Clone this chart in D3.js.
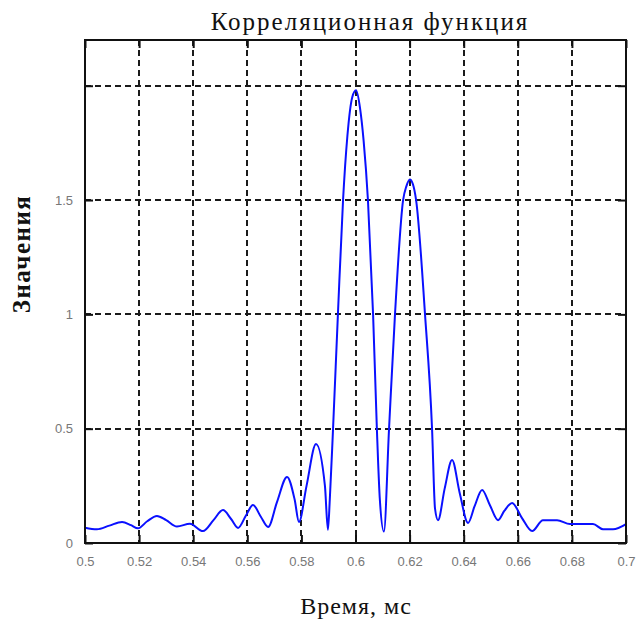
<!DOCTYPE html>
<html>
<head>
<meta charset="utf-8">
<script src="https://cdn.jsdelivr.net/npm/d3@7"></script>
<style>
  html, body { margin: 0; padding: 0; background: #fff; }
  svg { display: block; }
</style>
</head>
<body>
<script>
// Correlation function samples: time (ms) and value
const time = [
  0.5000, 0.5044, 0.5090, 0.5137, 0.5170, 0.5196, 0.5230, 0.5266, 0.5300, 0.5340,
  0.5388, 0.5436, 0.5475, 0.5510, 0.5540, 0.5566, 0.5595, 0.5621, 0.5650, 0.5677,
  0.5710, 0.5747, 0.5775, 0.5791, 0.5819, 0.5854, 0.5887, 0.5898, 0.5905, 0.5917,
  0.5935, 0.5954, 0.5970, 0.5988, 0.6002, 0.6017, 0.6030, 0.6046,
  0.6065, 0.6079, 0.6090, 0.6105, 0.6124, 0.6146, 0.6176, 0.6188, 0.6201, 0.6212,
  0.6224, 0.6257, 0.6283, 0.6294, 0.6305, 0.6330, 0.6357, 0.6385, 0.6416, 0.6440,
  0.6468, 0.6497, 0.6527, 0.6550, 0.6579, 0.6615, 0.6653, 0.6693, 0.6745, 0.6793,
  0.6878, 0.6915, 0.6952, 0.7000
];
const value = [
  0.067, 0.060, 0.076, 0.092, 0.078, 0.064, 0.095, 0.118, 0.100, 0.072,
  0.084, 0.052, 0.100, 0.144, 0.105, 0.066, 0.120, 0.166, 0.115, 0.070,
  0.180, 0.289, 0.190, 0.092, 0.250, 0.433, 0.250, 0.058, 0.190, 0.500,
  1.000, 1.500, 1.780, 1.950, 1.980, 1.900, 1.760, 1.500,
  1.000, 0.500, 0.190, 0.050, 0.500, 1.000, 1.500, 1.560, 1.590, 1.570,
  1.500, 1.000, 0.500, 0.150, 0.100, 0.240, 0.363, 0.220, 0.088, 0.160,
  0.232, 0.165, 0.100, 0.140, 0.175, 0.110, 0.052, 0.100, 0.100, 0.083,
  0.083, 0.060, 0.060, 0.083
];

const xTicks = [0.5, 0.52, 0.54, 0.56, 0.58, 0.6, 0.62, 0.64, 0.66, 0.68, 0.7];
const xTickLabels = ["0.5", "0.52", "0.54", "0.56", "0.58", "0.6", "0.62", "0.64", "0.66", "0.68", "0.7"];
const yTicks = [0, 0.5, 1, 1.5, 2];
const yTickLabels = ["0", "0.5", "1", "1.5", ""];

const titleText = "Корреляционная функция";
const xLabelText = "Время, мс";
const yLabelText = "Значения";

const W = 639, H = 626;
const margin = { left: 85, top: 40, right: 13, bottom: 83 };
const plotW = W - margin.left - margin.right;
const plotH = H - margin.top - margin.bottom;

const svg = d3.select("body").append("svg")
  .attr("width", W).attr("height", H)
  .style("background", "#fff");

const x = d3.scaleLinear().domain([0.5, 0.7]).range([margin.left, margin.left + plotW]);
const y = d3.scaleLinear().domain([0, 2.2]).range([margin.top + plotH, margin.top]);

const g = svg.append("g");

// dashed grid
g.append("g").selectAll("line").data(xTicks.slice(1, -1)).join("line")
  .attr("x1", d => Math.round(x(d))).attr("x2", d => Math.round(x(d)))
  .attr("y1", margin.top).attr("y2", margin.top + plotH)
  .attr("stroke", "#1a1a1a").attr("stroke-width", 2).attr("stroke-dasharray", "6,4");
g.append("g").selectAll("line").data(yTicks.slice(1)).join("line")
  .attr("x1", margin.left).attr("x2", margin.left + plotW)
  .attr("y1", d => Math.round(y(d))).attr("y2", d => Math.round(y(d)))
  .attr("stroke", "#1a1a1a").attr("stroke-width", 2).attr("stroke-dasharray", "6,4");

// curve
const data = time.map((t, i) => ({ t, v: value[i] }));
const line = d3.line().x(d => x(d.t)).y(d => y(d.v)).curve(d3.curveMonotoneX);
g.append("path").datum(data)
  .attr("d", line)
  .attr("fill", "none").attr("stroke", "#0a10ff").attr("stroke-width", 2);

// axes with inward ticks (bottom/top, left/right)
const axB = d3.axisBottom(x).tickValues(xTicks).tickSizeInner(-8).tickSizeOuter(0).tickPadding(14)
  .tickFormat((d, i) => xTickLabels[i]);
const axT = d3.axisTop(x).tickValues(xTicks).tickSizeInner(-8).tickSizeOuter(0).tickFormat("");
const axL = d3.axisLeft(y).tickValues(yTicks).tickSizeInner(-8).tickSizeOuter(0).tickPadding(12)
  .tickFormat((d, i) => yTickLabels[i]);
const axR = d3.axisRight(y).tickValues(yTicks).tickSizeInner(-8).tickSizeOuter(0).tickFormat("");

function styleAxis(sel) {
  sel.select(".domain").remove();
  sel.selectAll(".tick line").attr("stroke", "#111").attr("stroke-width", 2);
  sel.selectAll(".tick text").attr("fill", "#777")
    .style("font-family", "'Liberation Sans', Arial, sans-serif").style("font-size", "13px");
}
svg.append("g").attr("transform", `translate(0,${margin.top + plotH})`).call(axB).call(styleAxis);
svg.append("g").attr("transform", `translate(0,${margin.top})`).call(axT).call(styleAxis);
svg.append("g").attr("transform", `translate(${margin.left},0)`).call(axL).call(styleAxis);
svg.append("g").attr("transform", `translate(${margin.left + plotW},0)`).call(axR).call(styleAxis);

// frame
svg.append("rect")
  .attr("x", margin.left).attr("y", margin.top)
  .attr("width", plotW).attr("height", plotH)
  .attr("fill", "none").attr("stroke", "#111").attr("stroke-width", 2);

// titles
svg.append("text")
  .attr("x", 370).attr("y", 30)
  .attr("text-anchor", "middle")
  .style("font-family", "'Liberation Serif', 'Times New Roman', serif")
  .style("font-size", "25px").style("letter-spacing", "2px").attr("fill", "#111")
  .text(titleText);

svg.append("text")
  .attr("x", 356).attr("y", 614)
  .attr("text-anchor", "middle")
  .style("font-family", "'Liberation Serif', 'Times New Roman', serif")
  .style("font-size", "24px").style("letter-spacing", "1px").attr("fill", "#111")
  .text(xLabelText);

svg.append("text")
  .attr("transform", `translate(30,254) rotate(-90)`)
  .attr("text-anchor", "middle")
  .style("font-family", "'Liberation Serif', 'Times New Roman', serif")
  .style("font-size", "25px").style("font-weight", "bold").style("letter-spacing", "1.5px")
  .attr("fill", "#111")
  .text(yLabelText);
</script>
</body>
</html>
